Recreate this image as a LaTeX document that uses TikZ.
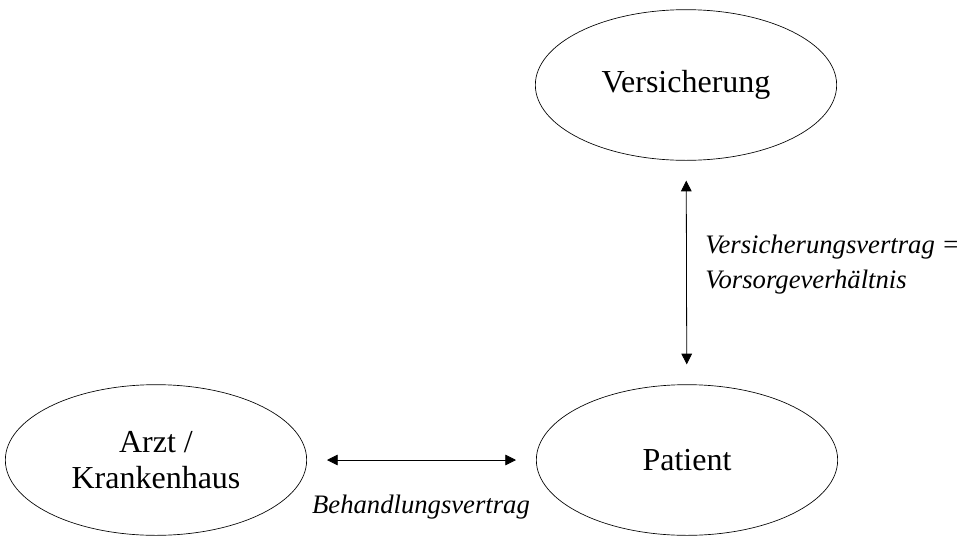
\documentclass[tikz,border=0pt]{standalone}
\usepackage{fontspec}
\setmainfont{Liberation Serif}
\usepackage{tikz}
\usetikzlibrary{positioning}
\usetikzlibrary{shapes.geometric}
\usetikzlibrary{arrows.meta}

\begin{document}
\begin{tikzpicture}[x=0.75pt, y=-0.75pt, >={Triangle[length=8pt,width=8pt]},
    party/.style = {ellipse, draw, line width=0.5pt, minimum width=226pt, minimum height=113pt,
      inner sep=0pt, align=center, font=\fontsize{24}{26.5}\selectfont},
    relation/.style = {align=left, inner sep=0pt, font=\fontsize{20}{26.3}\selectfont\itshape},
    link/.style = {<->, line width=0.6pt, shorten >=15pt, shorten <=15pt}
    ]
    \useasboundingbox (0,0) rectangle (975,536);
    \node[party] (vers) at (686,85) {Versicherung};
    \node[party] (arzt) at (156,460) {Arzt /\\Krankenhaus};
    \node[party] (pat) at (687,460) {Patient};

    \node[relation, anchor=west] (vvertrag) at (705,265) {Versicherungsvertrag =\\Vorsorgeverh\"altnis};
    \node[relation, anchor=base] (bvertrag) at (421,513) {Behandlungsvertrag};

    \draw[link] (vers) -- (pat);
    \draw[link] (arzt) -- (pat);
\end{tikzpicture}
\end{document}
